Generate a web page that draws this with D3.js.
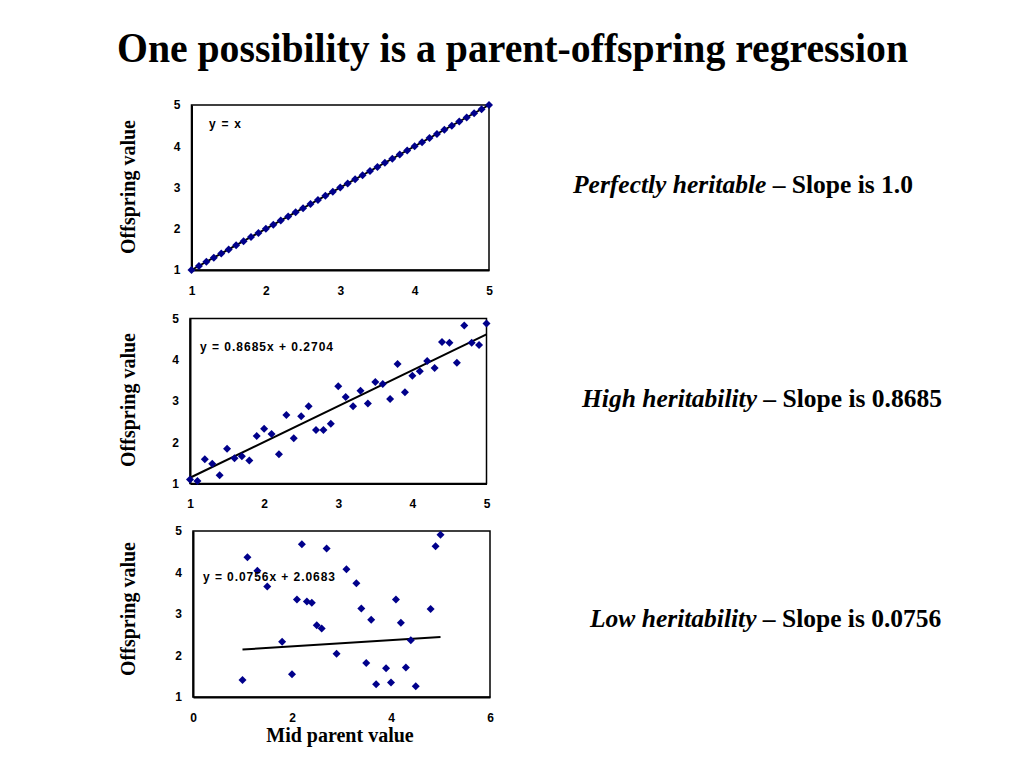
<!DOCTYPE html>
<html>
<head>
<meta charset="utf-8">
<script src="https://cdn.jsdelivr.net/npm/d3@7/dist/d3.min.js"></script>
<style>
html,body{margin:0;padding:0;background:#fff;}
svg{display:block;}
</style>
</head>
<body>
<svg id="chart" width="1024" height="768"></svg>
<script>
// ---------- data ----------
const titleText = "One possibility is a parent-offspring regression";
const yAxisLabel = "Offspring value";
const xAxisLabel = "Mid parent value";

// Panel 1: perfectly heritable
const p1X = [1.0,1.1,1.2,1.3,1.4,1.5,1.6,1.7,1.8,1.9,2.0,2.1,2.2,2.3,2.4,2.5,2.6,2.7,2.8,2.9,3.0,3.1,3.2,3.3,3.4,3.5,3.6,3.7,3.8,3.9,4.0,4.1,4.2,4.3,4.4,4.5,4.6,4.7,4.8,4.9,5.0];
const p1Y = [1.0,1.1,1.2,1.3,1.4,1.5,1.6,1.7,1.8,1.9,2.0,2.1,2.2,2.3,2.4,2.5,2.6,2.7,2.8,2.9,3.0,3.1,3.2,3.3,3.4,3.5,3.6,3.7,3.8,3.9,4.0,4.1,4.2,4.3,4.4,4.5,4.6,4.7,4.8,4.9,5.0];
const p1Slope = 1.0, p1Intercept = 0.0;
const p1Eq = "y = x";
const p1Note = ["Perfectly heritable", " – Slope is 1.0"];

// Panel 2: high heritability
const p2X = [1.0,1.1,1.2,1.3,1.4,1.5,1.6,1.7,1.8,1.9,2.0,2.1,2.2,2.3,2.4,2.5,2.6,2.7,2.8,2.9,3.0,3.1,3.2,3.3,3.4,3.5,3.6,3.7,3.8,3.9,4.0,4.1,4.2,4.3,4.4,4.5,4.6,4.7,4.8,4.9,5.0];
const p2Y = [1.10,1.06,1.59,1.48,1.20,1.84,1.61,1.66,1.56,2.15,2.33,2.20,1.71,2.66,2.10,2.63,2.87,2.30,2.30,2.45,3.36,3.10,2.87,3.25,2.94,3.46,3.41,3.05,3.90,3.21,3.61,3.72,3.97,3.80,4.43,4.41,3.93,4.83,4.41,4.36,4.88];
const p2Slope = 0.8685, p2Intercept = 0.2704;
const p2Eq = "y = 0.8685x + 0.2704";
const p2Note = ["High heritability", " – Slope is 0.8685"];

// Panel 3: low heritability
const p3X = [1.0,1.1,1.3,1.5,1.8,2.0,2.1,2.2,2.3,2.4,2.5,2.6,2.7,2.9,3.1,3.3,3.4,3.5,3.6,3.7,3.9,4.0,4.1,4.2,4.3,4.4,4.5,4.8,4.9,5.0];
const p3Y = [1.41,4.37,4.04,3.66,2.33,1.55,3.35,4.68,3.30,3.27,2.73,2.65,4.58,2.04,4.08,3.74,3.13,1.82,2.86,1.31,1.69,1.35,3.35,2.79,1.71,2.37,1.26,3.12,4.63,4.91];
const p3Slope = 0.0756, p3Intercept = 2.0683;
const p3Eq = "y = 0.0756x + 2.0683";
const p3Note = ["Low heritability", " – Slope is 0.0756"];

const yTicks = [1,2,3,4,5];
const xTicks12 = [1,2,3,4,5];
const xTicks3 = [0,2,4,6];

// ---------- drawing ----------
const svg = d3.select("#chart");
const serif = "'Liberation Serif','Times New Roman',serif";
const sans = "'Liberation Sans',Arial,sans-serif";
const markerColor = "#00008b";

svg.append("text")
  .attr("x", 512.5).attr("y", 62)
  .attr("text-anchor", "middle")
  .attr("font-family", serif).attr("font-weight", "bold")
  .attr("font-size", 43)
  .attr("textLength", 791).attr("lengthAdjust", "spacingAndGlyphs")
  .text(titleText);

const panels = [
  {xs:p1X, ys:p1Y, slope:p1Slope, icpt:p1Intercept, eq:p1Eq, note:p1Note, eqLen:32,
   xDom:[1,5], xTicks:xTicks12, left:191.5, right:489, top:105, bottom:270,
   eqX:209, eqY:128, noteX:573, noteY:193, lineX:[1,5], labelY:187},
  {xs:p2X, ys:p2Y, slope:p2Slope, icpt:p2Intercept, eq:p2Eq, note:p2Note, eqLen:133,
   xDom:[1,5], xTicks:xTicks12, left:190, right:486.5, top:318.5, bottom:483.5,
   eqX:200, eqY:351, noteX:582, noteY:407, lineX:[1,5], labelY:400},
  {xs:p3X, ys:p3Y, slope:p3Slope, icpt:p3Intercept, eq:p3Eq, note:p3Note, eqLen:132,
   xDom:[0,6], xTicks:xTicks3, left:193, right:490, top:531, bottom:697,
   eqX:203, eqY:581, noteX:590, noteY:627, lineX:[1,5], labelY:609}
];

const r = 4;
const diamondPath = `M0,${-r}L${r},0L0,${r}L${-r},0Z`;

panels.forEach(p => {
  const x = d3.scaleLinear().domain(p.xDom).range([p.left, p.right]);
  const y = d3.scaleLinear().domain([1,5]).range([p.bottom, p.top]);
  const g = svg.append("g");

  // frame
  g.append("rect")
    .attr("x", p.left).attr("y", p.top)
    .attr("width", p.right - p.left).attr("height", p.bottom - p.top)
    .attr("fill", "none").attr("stroke", "#000").attr("stroke-width", 1.5);

  // axes (no tick marks)
  const yAxis = d3.axisLeft(y).tickValues(yTicks).tickSize(0).tickPadding(11).tickFormat(d3.format("d"));
  const ya = g.append("g").attr("transform", `translate(${p.left},0)`).call(yAxis);
  const xAxis = d3.axisBottom(x).tickValues(p.xTicks).tickSize(0).tickPadding(16).tickFormat(d3.format("d"));
  const xa = g.append("g").attr("transform", `translate(0,${p.bottom})`).call(xAxis);
  [ya, xa].forEach(a => {
    a.select(".domain").attr("stroke", "#000").attr("stroke-width", 2);
    a.selectAll("text").attr("font-family", sans).attr("font-weight", "bold")
      .attr("font-size", 12).attr("fill", "#000");
  });

  // regression line
  g.append("line")
    .attr("x1", x(p.lineX[0])).attr("y1", y(p.slope*p.lineX[0]+p.icpt))
    .attr("x2", x(p.lineX[1])).attr("y2", y(p.slope*p.lineX[1]+p.icpt))
    .attr("stroke", "#000").attr("stroke-width", 2);

  // points
  g.selectAll("path.pt").data(p.xs.map((v,i)=>[v,p.ys[i]])).enter()
    .append("path").attr("class","pt")
    .attr("d", diamondPath)
    .attr("transform", d => `translate(${x(d[0])},${y(d[1])})`)
    .attr("fill", markerColor);

  // equation
  const eq = g.append("text").attr("x", p.eqX).attr("y", p.eqY)
    .attr("font-family", sans).attr("font-weight", "bold").attr("font-size", 12)
    .text(p.eq);
  if (p.eqLen) eq.attr("textLength", p.eqLen).attr("lengthAdjust", "spacing");

  // y label
  g.append("text")
    .attr("transform", `translate(135,${p.labelY}) rotate(-90)`)
    .attr("text-anchor", "middle")
    .attr("font-family", serif).attr("font-weight", "bold").attr("font-size", 20)
    .text(yAxisLabel);

  // note
  const t = g.append("text").attr("x", p.noteX).attr("y", p.noteY)
    .attr("font-family", serif).attr("font-weight", "bold").attr("font-size", 25.5);
  t.append("tspan").attr("font-style", "italic").text(p.note[0]);
  t.append("tspan").text(p.note[1]);
});

svg.append("text")
  .attr("x", 340).attr("y", 742)
  .attr("text-anchor", "middle")
  .attr("font-family", serif).attr("font-weight", "bold").attr("font-size", 20)
  .text(xAxisLabel);
</script>
</body>
</html>
